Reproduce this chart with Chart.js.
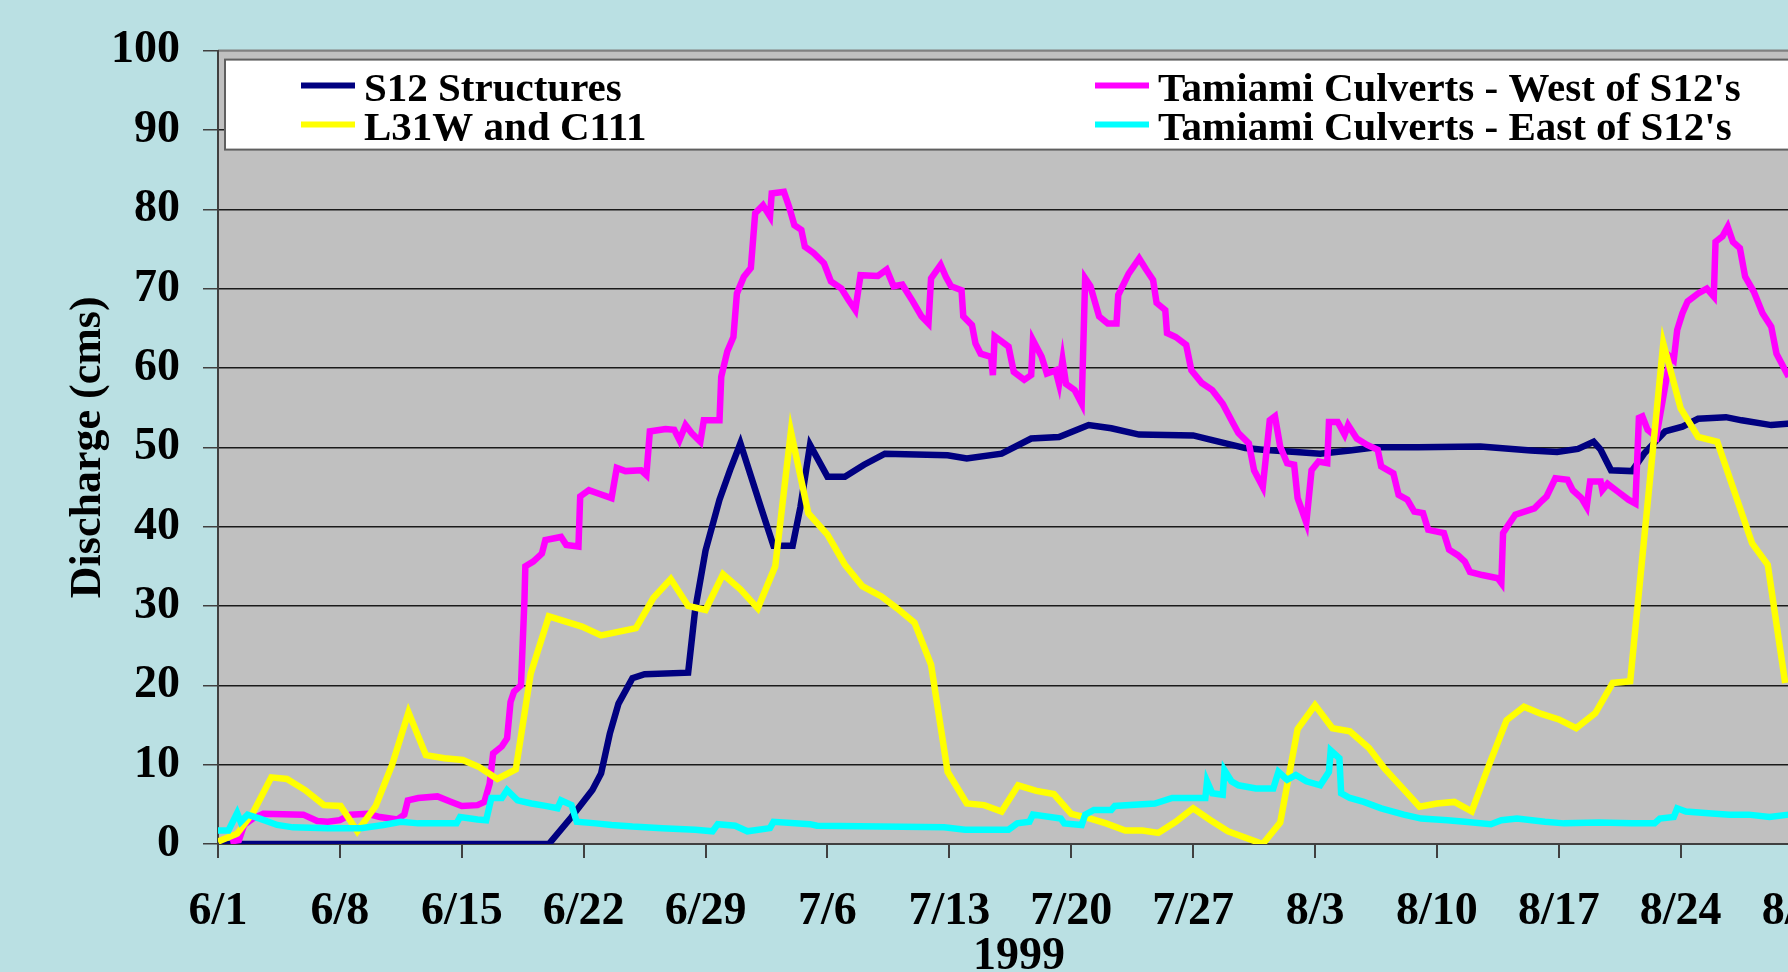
<!DOCTYPE html>
<html>
<head>
<meta charset="utf-8">
<script src="https://cdn.jsdelivr.net/npm/chart.js@4.4.1/dist/chart.umd.min.js"></script>
<style>
  html, body { margin: 0; padding: 0; overflow: hidden; background: #bae0e3; }
  #wrap { position: absolute; left: 0; top: 0; width: 1900px; height: 972px; }
</style>
</head>
<body>
<div id="wrap"><canvas id="chart" width="1900" height="972"></canvas></div>
<script>
// Discharge 1999, days counted from 6/1

const tickLabels = ['6/1', '6/8', '6/15', '6/22', '6/29', '7/6', '7/13', '7/20', '7/27', '8/3', '8/10', '8/17', '8/24', '8/31'];
const seriesNames = ['S12 Structures', "Tamiami Culverts - West of S12's", 'L31W and C111', "Tamiami Culverts - East of S12's"];

// S12 Structures
const s12Days = [0, 19, 20.3, 21.5, 22.0, 22.5, 23.0, 23.8, 24.5, 27.0, 27.4, 28.0, 28.8, 29.4, 30.0, 31.2, 31.9, 33.0, 33.45, 34.0,
  35.0, 36.0, 37.1, 38.3, 41.9, 43.0, 45.0, 46.7, 48.3, 50.0, 51.3, 52.9, 56.0, 57.1, 59.0, 60.0, 61.9, 63.3, 65.0, 66.5,
  68.9, 72.5, 75.4, 76.9, 78.1, 79.0, 79.4, 80.0, 81.2, 81.9, 83.1, 84.1, 85.0, 86.6, 87.5, 89.2, 90.3];
const s12Vals = [0, 0, 3.4, 6.8, 8.9, 13.9, 17.7, 20.9, 21.4, 21.6, 29.5, 37, 43.4, 47.1, 50.5, 42.3, 37.6, 37.6, 42.5, 50.3,
  46.3, 46.3, 47.8, 49.2, 49.0, 48.6, 49.2, 51.1, 51.3, 52.8, 52.4, 51.6, 51.5, 50.9, 49.9, 49.7, 49.4, 49.2, 49.6, 50.0,
  50.0, 50.1, 49.6, 49.4, 49.8, 50.7, 49.7, 47.1, 47.0, 49.2, 52.0, 52.6, 53.6, 53.8, 53.4, 52.8, 53.0];

// Tamiami Culverts - West of S12's
const westDays = [0.7, 1.2, 1.5, 2.0, 2.6, 4.9, 5.7, 6.3, 7.0, 7.6, 8.6, 9.3, 10.3, 10.7, 10.9, 11.5, 12.6, 13.4, 14.0, 14.9,
  15.3, 15.6, 15.8, 16.3, 16.6, 16.8, 17.0, 17.4, 17.6, 17.65, 18.1, 18.6, 18.8, 19.7, 20.0, 20.7, 20.8, 21.3, 21.8, 22.6,
  22.9, 23.4, 24.3, 24.6, 24.8, 25.7, 26.2, 26.5, 26.85, 27.2, 27.7, 27.9, 28.8, 28.9, 29.25, 29.6, 29.8, 30.2, 30.6, 30.85,
  31.3, 31.7, 31.8, 32.5, 32.8, 33.1, 33.5, 33.7, 34.2, 34.8, 35.2, 35.8, 36.2, 36.6, 36.9, 37.9, 38.4, 38.8, 39.3, 39.9,
  40.4, 40.8, 40.95, 41.5, 41.8, 42.1, 42.7, 42.8, 43.3, 43.5, 43.8, 44.4, 44.5, 44.6, 45.4, 45.7, 46.3, 46.7, 46.8, 47.3,
  47.6, 48.1, 48.3, 48.5, 48.7, 49.2, 49.6, 49.8, 50.1, 50.6, 51.1, 51.6, 51.7, 52.3, 52.9, 53.3, 53.7, 53.9, 54.4, 54.5,
  55.0, 55.6, 55.9, 56.5, 57.1, 57.7, 58.3, 58.6, 59.2, 59.5, 60.0, 60.4, 60.7, 61.0, 61.4, 61.8, 62.0, 62.5, 62.8, 63.2,
  63.7, 63.8, 64.3, 64.7, 64.9, 65.4, 66.0, 66.6, 66.8, 67.5, 67.8, 68.3, 68.7, 69.2, 69.5, 70.4, 70.7, 71.2, 71.6, 71.9,
  72.6, 73.5, 73.7, 73.8, 74.1, 74.5, 75.6, 76.0, 76.3, 76.8, 77.5, 77.8, 78.3, 78.6, 78.8, 79.4, 79.5, 79.8, 80.4, 81.0,
  81.4, 81.6, 81.8, 82.1, 82.6, 83.4, 83.6, 83.8, 84.1, 84.4, 85.0, 85.5, 85.9, 86.0, 86.4, 86.7, 87.0, 87.4, 87.7, 88.2,
  88.7, 89.2, 89.5, 90.2];
const westVals = [0.3, 0.5, 2.4, 3.2, 3.8, 3.7, 2.9, 2.8, 3.0, 3.7, 3.8, 3.4, 3.1, 3.7, 5.5, 5.8, 6.0, 5.3, 4.8, 4.9,
  5.3, 7.6, 11.4, 12.3, 13.3, 17.9, 19.2, 20.0, 30.8, 35.0, 35.6, 36.6, 38.3, 38.7, 37.7, 37.5, 43.8, 44.6, 44.2, 43.6,
  47.4, 47.0, 47.1, 46.5, 52.0, 52.3, 52.2, 50.9, 52.8, 51.8, 50.7, 53.4, 53.4, 58.9, 62.1, 63.9, 69.4, 71.5, 72.6, 79.5,
  80.5, 79.1, 82.0, 82.2, 80.3, 78.0, 77.4, 75.3, 74.5, 73.2, 70.9, 70.0, 68.6, 67.3, 71.7, 71.6, 72.4, 70.3, 70.5, 68.4,
  66.5, 65.6, 71.3, 73.0, 71.5, 70.3, 69.8, 66.5, 65.4, 63.1, 61.8, 61.4, 59.1, 64.0, 62.7, 59.5, 58.5, 59.1, 63.5, 61.4,
  59.3, 59.7, 58.0, 61.0, 58.0, 57.2, 55.5, 71.3, 70.3, 66.5, 65.6, 65.6, 69.2, 71.9, 73.8, 72.4, 71.1, 68.2, 67.3, 64.4,
  63.9, 62.9, 59.7, 58.1, 57.2, 55.5, 53.0, 51.8, 50.5, 47.1, 45.0, 53.4, 53.9, 50.1, 48.0, 47.8, 43.6, 40.5, 47.1, 48.2,
  48.0, 53.2, 53.2, 51.6, 52.8, 51.1, 50.3, 49.7, 47.6, 46.7, 44.0, 43.4, 41.9, 41.7, 39.6, 39.2, 37.1, 36.4, 35.6, 34.3,
  33.9, 33.5, 32.9, 39.2, 40.2, 41.5, 42.3, 43.2, 43.8, 46.1, 45.9, 44.6, 43.6, 42.5, 45.7, 45.7, 44.6, 45.4, 44.4, 43.4,
  42.9, 53.7, 53.9, 52.2, 51.3, 61.4, 61.0, 64.8, 66.9, 68.4, 69.4, 70.0, 69.0, 75.9, 76.6, 77.8, 75.9, 75.1, 71.5, 69.6,
  66.9, 65.2, 61.8, 58.9];

// L31W and C111
const l31Days = [0, 1.1, 2.0, 3.06, 3.96, 5.0, 6.08, 7.04, 8.0, 9.06, 10.0, 10.94, 11.94, 13.0, 14.06, 15.0, 16.04, 17.1, 17.96, 19.0,
  20.9, 22.0, 24.0, 25.0, 26.0, 27.0, 28.0, 29.0, 30.0, 31.0, 32.0, 32.9, 33.9, 35.0, 36.0, 37.0, 38.1, 39.0, 40.0, 40.95,
  41.9, 43.0, 44.0, 45.0, 45.95, 47.0, 48.0, 49.0, 50.1, 51.0, 52.1, 53.1, 54.0, 55.0, 56.0, 57.0, 58.0, 60.0, 61.0, 62.0,
  63.0, 64.0, 65.0, 66.1, 67.0, 68.0, 69.0, 70.0, 71.0, 72.0, 73.0, 74.0, 75.0, 76.0, 77.0, 78.0, 79.1, 80.1, 81.1, 83.0,
  84.0, 85.0, 86.1, 88.1, 89.0, 90.0];
const l31Vals = [0.3, 1.3, 3.9, 8.4, 8.2, 6.8, 4.9, 4.8, 1.6, 4.8, 10.0, 16.6, 11.2, 10.8, 10.6, 9.7, 8.2, 9.4, 21.5, 28.7,
  27.4, 26.3, 27.2, 31.0, 33.4, 30.0, 29.5, 34.0, 32.1, 29.7, 35.0, 52.0, 41.7, 39.0, 35.2, 32.5, 31.2, 29.7, 27.9, 22.6,
  9.1, 5.1, 4.9, 4.1, 7.4, 6.7, 6.3, 3.8, 3.2, 2.6, 1.7, 1.7, 1.4, 2.8, 4.5, 3.0, 1.6, 0, 2.7, 14.5,
  17.5, 14.6, 14.2, 12.1, 9.5, 7.1, 4.7, 5.1, 5.3, 4.1, 10.0, 15.6, 17.3, 16.4, 15.7, 14.6, 16.5, 20.3, 20.5, 63.1,
  54.9, 51.3, 50.7, 37.9, 35.2, 20.3];

// Tamiami Culverts - East of S12's
const eastDays = [0, 0.6, 1.1, 1.3, 1.7, 2.4, 3.4, 4.3, 6.3, 8.2, 9.5, 10.5, 11.5, 13.7, 13.9, 14.9, 15.4, 15.7, 16.3, 16.6,
  17.2, 18.0, 18.8, 19.5, 19.7, 20.3, 20.6, 21.7, 22.6, 23.8, 25.5, 27.4, 28.4, 28.7, 29.7, 30.4, 31.7, 31.9, 34.0, 34.4,
  41.7, 42.9, 45.4, 45.9, 46.6, 46.8, 48.4, 48.6, 49.6, 49.8, 50.3, 51.3, 51.5, 53.8, 54.8, 56.7, 56.8, 57.1, 57.7, 57.8,
  58.2, 58.6, 59.6, 60.6, 60.9, 61.4, 61.9, 62.5, 63.3, 63.8, 63.9, 64.4, 64.5, 65.0, 65.8, 66.8, 68.1, 69.1, 70.6, 71.6,
  73.1, 73.7, 74.6, 76.2, 77.3, 79.3, 81.2, 82.5, 82.8, 83.6, 83.8, 84.3, 85.4, 86.8, 87.9, 89.1, 90.2];
const eastVals = [1.7, 1.7, 3.9, 2.8, 3.7, 3.2, 2.4, 2.1, 2.0, 2.0, 2.4, 2.8, 2.6, 2.6, 3.4, 3.1, 3.0, 5.8, 5.8, 6.8,
  5.5, 5.1, 4.8, 4.5, 5.5, 4.9, 2.8, 2.6, 2.4, 2.2, 2.0, 1.8, 1.6, 2.5, 2.3, 1.6, 2.0, 2.8, 2.5, 2.3,
  2.1, 1.8, 1.8, 2.6, 2.8, 3.7, 3.2, 2.6, 2.4, 3.7, 4.3, 4.3, 4.8, 5.1, 5.8, 5.8, 7.9, 6.4, 6.2, 9.3,
  7.9, 7.4, 7.0, 7.0, 9.1, 8.1, 8.7, 7.9, 7.4, 9.1, 11.8, 10.8, 6.4, 5.8, 5.3, 4.5, 3.7, 3.2, 3.0, 2.8,
  2.5, 3.0, 3.2, 2.8, 2.6, 2.7, 2.6, 2.6, 3.2, 3.4, 4.5, 4.1, 3.9, 3.7, 3.7, 3.4, 3.7];

const colors = ['#000080', '#ff00ff', '#ffff00', '#00ffff'];

function points(days, vals) {
    return days.map((d, i) => ({ x: d, y: vals[i] }));
}

const FONT = "'Liberation Serif', 'Times New Roman', serif";

// fondo del lienzo y del area de trazado
const backgroundPlugin = {
    id: 'backgrounds',
    beforeDraw(chart) {
        const { ctx, chartArea } = chart;
        ctx.save();
        ctx.fillStyle = '#bae0e3';
        ctx.fillRect(0, 0, chart.width, chart.height);
        ctx.fillStyle = '#c0c0c0';
        ctx.fillRect(chartArea.left, chartArea.top, chartArea.right - chartArea.left, chartArea.bottom - chartArea.top);
        ctx.strokeStyle = '#808080';
        ctx.lineWidth = 2;
        ctx.beginPath();
        ctx.moveTo(chartArea.left, chartArea.top);
        ctx.lineTo(chartArea.right, chartArea.top);
        ctx.stroke();
        ctx.restore();
    }
};

// leyenda en dos columnas dentro del grafico
const legendPlugin = {
    id: 'boxLegend',
    afterDraw(chart) {
        const { ctx, chartArea } = chart;
        const left = chartArea.left + 7;
        const top = chartArea.top + 9;
        ctx.save();
        ctx.fillStyle = '#ffffff';
        ctx.fillRect(left, top, chartArea.right - 10 - left, 90);
        ctx.strokeStyle = '#606060';
        ctx.lineWidth = 2;
        ctx.strokeRect(left, top, chartArea.right - 10 - left, 90);
        ctx.font = 'bold 41px ' + FONT;
        ctx.textBaseline = 'alphabetic';
        ctx.fillStyle = '#000000';
        const cols = [left + 76, left + 870];
        const rows = [top + 26, top + 65];
        chart.data.datasets.forEach((ds, i) => {
            const cx = cols[i % 2];
            const cy = rows[Math.floor(i / 2)];
            ctx.strokeStyle = ds.borderColor;
            ctx.lineWidth = 6;
            ctx.beginPath();
            ctx.moveTo(cx, cy);
            ctx.lineTo(cx + 54, cy);
            ctx.stroke();
            ctx.fillText(ds.label, cx + 63, cy + 15);
        });
        ctx.restore();
    }
};

const order = [4, 3, 2, 1];
const allDays = [s12Days, westDays, l31Days, eastDays];
const allVals = [s12Vals, westVals, l31Vals, eastVals];

new Chart(document.getElementById('chart'), {
    type: 'line',
    data: {
        datasets: seriesNames.map((name, i) => ({
            label: name,
            data: points(allDays[i], allVals[i]),
            borderColor: colors[i],
            backgroundColor: colors[i],
            borderWidth: 6.5,
            borderJoinStyle: 'miter',
            pointRadius: 0,
            tension: 0,
            order: order[i]
        }))
    },
    options: {
        responsive: false,
        animation: false,
        layout: { padding: { left: 0, top: 50, right: 80, bottom: 0 } },
        plugins: { legend: { display: false }, tooltip: { enabled: false } },
        scales: {
            x: {
                type: 'linear',
                min: 0,
                max: 92,
                afterBuildTicks(scale) {
                    scale.ticks = tickLabels.map((t, i) => ({ value: i * 7 }));
                },
                afterFit(scale) { scale.height = 128; },
                ticks: {
                    autoSkip: false,
                    maxRotation: 0,
                    padding: 27,
                    color: '#000',
                    font: { family: FONT, size: 46, weight: 'bold' },
                    callback: (v) => tickLabels[Math.round(v / 7)]
                },
                grid: { drawOnChartArea: false, drawTicks: true, tickLength: 14, color: '#404040', lineWidth: 2 },
                border: { display: true, color: '#404040', width: 2 },
                title: {
                    display: true,
                    text: '1999',
                    color: '#000',
                    padding: 0,
                    font: { family: FONT, size: 46, weight: 'bold', lineHeight: 0.66 }
                }
            },
            y: {
                min: 0,
                max: 100,
                afterFit(scale) { scale.width = 218; },
                ticks: {
                    stepSize: 10,
                    padding: 23,
                    color: '#000',
                    font: { family: FONT, size: 46, weight: 'bold' }
                },
                grid: {
                    color: (c) => (c.tick && c.tick.value === 100 ? '#808080' : '#1a1a1a'),
                    tickColor: '#404040',
                    lineWidth: 1.5,
                    tickLength: 15
                },
                border: { display: true, color: '#404040', width: 2 },
                title: {
                    display: true,
                    text: 'Discharge (cms)',
                    color: '#000',
                    padding: { top: 64, bottom: 0 },
                    font: { family: FONT, size: 44, weight: 'bold', lineHeight: 1.1 }
                }
            }
        }
    },
    plugins: [backgroundPlugin, legendPlugin]
});
</script>
</body>
</html>
